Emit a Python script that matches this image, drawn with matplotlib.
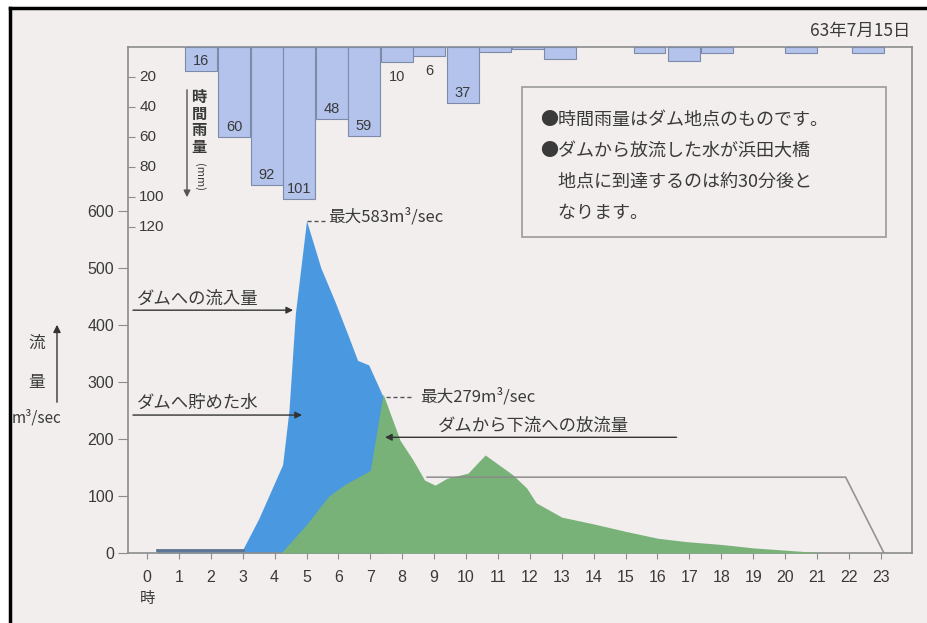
import matplotlib.pyplot as plt
import matplotlib.patches as mpatches
import matplotlib.lines as mlines
import matplotlib.transforms as mtransforms
import numpy as np

plt.rcParams['font.family'] = ['Noto Sans CJK JP', 'DejaVu Sans']

# hourly rain at the dam (mm)
rain_t = [1.68, 2.74, 3.75, 4.77, 5.79, 6.8, 7.84, 8.84, 9.9, 10.92, 11.93,
          12.95, 15.75, 16.82, 17.88, 20.5, 22.6]
rain_mm = [16, 60, 92, 101, 48, 59, 10, 6, 37, 3, 1, 8, 4, 9, 4, 4, 4]
rain_labeled = [16, 60, 92, 101, 48, 59, 10, 6, 37]

# inflow to the dam (m3/sec)
inflow_t = [0.3, 3.0, 3.5, 4.25, 4.45, 4.65, 5.0, 5.45, 5.9, 6.35, 6.6, 6.95, 7.4, 7.5]
inflow_q = [6, 6, 60, 155, 250, 420, 583, 500, 440, 375, 338, 330, 274, 0]

# release from the dam (m3/sec)
outflow_t = [4.2, 5.0, 5.7, 6.2, 7.0, 7.4, 7.93, 8.34, 8.7, 9.03, 9.4, 10.06, 10.6,
             11.47, 11.9, 12.2, 13.0, 14.0, 15.0, 16.0, 16.9, 18.0, 19.0, 20.0, 21.0, 21.2]
outflow_q = [0, 50, 100, 120, 145, 279, 198, 163, 128, 119, 131, 140, 172,
             137, 114, 88, 63, 51, 38, 26, 20, 15, 9, 5, 1, 0]

# thin grey line
grey_t = [8.78, 21.9, 23.1]
grey_q = [133, 133, 0]

hours = list(range(24))
flow_ticks = [0, 100, 200, 300, 400, 500, 600]
rain_ticks = [20, 40, 60, 80, 100, 120]

W, H = 928, 623
txt = '#3a3a3a'
edge = '#8c8c8c'
num_font = 'Liberation Sans'


def px(x, y):
    return x / W, 1 - y / H


fig = plt.figure(figsize=(W / 100, H / 100), dpi=100, facecolor='white')
fig.patches.append(mpatches.Rectangle((10 / W, 0), 1, 1 - 8 / H, transform=fig.transFigure,
                                      facecolor='#f2eeed', edgecolor='none', zorder=-5))
fig.lines.append(mlines.Line2D([10 / W, 1], [1 - 8 / H] * 2, transform=fig.transFigure,
                               color='black', lw=2.5))
fig.lines.append(mlines.Line2D([10 / W] * 2, [0, 1 - 8 / H], transform=fig.transFigure,
                               color='black', lw=2.5))

ax = fig.add_axes([128 / W, 70 / H, 784 / W, 506 / H])
ax.set_facecolor('none')
ax.set_xlim(-0.596, 23.98)
ax.set_ylim(0, 887.7)
for s in ax.spines.values():
    s.set_color(edge)
    s.set_linewidth(1.2)

ax.fill_between(inflow_t, inflow_q, color='#4a98e0', lw=0, zorder=2)
ax.plot(inflow_t[:2], inflow_q[:2], color='#5d7394', lw=2, zorder=2)
ax.fill_between(outflow_t, outflow_q, color='#78b278', lw=0, zorder=3)
ax.plot(grey_t, grey_q, color='#8a8a8a', lw=1.2, alpha=0.9, zorder=4)

ax.set_xticks(hours)
ax.set_xticklabels([str(h) for h in hours], fontfamily=num_font)
ax.set_yticks(flow_ticks)
ax.set_yticklabels([str(v) for v in flow_ticks], fontfamily=num_font)
ax.tick_params(axis='x', direction='out', length=4, pad=8, labelsize=11.5,
               color=edge, labelcolor=txt)
ax.tick_params(axis='y', direction='out', length=7, pad=3, labelsize=11.5,
               color=edge, labelcolor=txt)
ax.annotate('時', xy=(0, 0), xycoords=('data', 'axes fraction'), xytext=(0, -33),
            textcoords='offset points', ha='center', va='center', fontsize=11, color=txt)

# rain bars hanging from the top
ax2 = ax.twinx()
ax2.set_ylim(337.3, 0)
for s in ax2.spines.values():
    s.set_visible(False)
ax2.yaxis.set_ticks_position('left')
ax2.set_yticks(rain_ticks)
ax2.set_yticklabels([])
ax2.tick_params(axis='y', direction='in', length=5, color=edge)
rain_lab = mtransforms.blended_transform_factory(ax2.transAxes, ax2.transData)
for v in rain_ticks:
    ax2.text(0.0145, v, str(v), transform=rain_lab, ha='left', va='center',
             fontsize=11, fontfamily=num_font, color=txt)
ax2.bar(rain_t, rain_mm, width=1.0, color='#b3c3ec', edgecolor='#7d8aa8', lw=0.8)
for t, v in zip(rain_t, rain_mm):
    if v not in rain_labeled:
        continue
    if v > 12:
        ax2.text(t, v - 6.5, str(v), ha='center', va='center', fontsize=10.5,
                 fontfamily=num_font, color=txt)
    else:
        ax2.text(t, v + 10, str(v), ha='center', va='center', fontsize=10.5,
                 fontfamily=num_font, color=txt)

# rain axis caption
fig.text(*px(199, 122), '時\n間\n雨\n量', ha='center', va='center', fontsize=11,
         color=txt, linespacing=1.05, fontweight='bold')
fig.text(*px(199, 177), '(mm)', ha='center', va='center', fontsize=8, rotation=270,
         color=txt)
ax.annotate('', xy=px(187, 200), xytext=px(187, 87), xycoords='figure fraction',
            arrowprops=dict(arrowstyle='-|>', color='#555555', lw=1, mutation_scale=10))

# flow axis caption
fig.text(*px(37, 343), '流', ha='center', va='center', fontsize=12, color=txt)
fig.text(*px(37, 383), '量', ha='center', va='center', fontsize=12, color=txt)
fig.text(*px(12, 418), 'm³/sec', ha='left', va='center', fontsize=11, color=txt)
ax.annotate('', xy=px(57, 322), xytext=px(57, 405), xycoords='figure fraction',
            arrowprops=dict(arrowstyle='-|>', color='#333333', lw=1, mutation_scale=11))

# callouts
arrow = dict(arrowstyle='-|>', color='#333333', lw=1, mutation_scale=10, shrinkA=0, shrinkB=0)
ax.text(-0.31, 446, 'ダムへの流入量', ha='left', va='center', fontsize=12.5, color=txt)
ax.annotate('', xy=(4.58, 426), xytext=(-0.44, 426), arrowprops=arrow)
ax.text(-0.31, 263, 'ダムへ貯めた水', ha='left', va='center', fontsize=12.5, color=txt)
ax.annotate('', xy=(4.86, 242), xytext=(-0.44, 242), arrowprops=arrow)
ax.text(9.12, 223, 'ダムから下流への放流量', ha='left', va='center', fontsize=12.5, color=txt)
ax.annotate('', xy=(7.46, 203), xytext=(16.6, 203), arrowprops=arrow)

ax.plot([5.03, 5.6], [583, 583], color='#555555', lw=1, ls=(0, (3, 2)))
ax.text(5.68, 590, '最大583m³/sec', ha='left', va='center', fontsize=12, color=txt)
ax.plot([7.5, 8.3], [274, 274], color='#555555', lw=1, ls=(0, (3, 2)))
ax.text(8.56, 274, '最大279m³/sec', ha='left', va='center', fontsize=12, color=txt)

# date and notes
fig.text(*px(910, 31), '63年7月15日', ha='right', va='center', fontsize=12.5, color=txt)
fig.patches.append(mpatches.Rectangle(px(522, 237), 364 / W, 150 / H, transform=fig.transFigure,
                                      facecolor='none', edgecolor='#9a9a9a', lw=1.2))
notes = ['●時間雨量はダム地点のものです。', '●ダムから放流した水が浜田大橋',
         '　地点に到達するのは約30分後と', '　なります。']
for i, line in enumerate(notes):
    fig.text(*px(540, 120 + i * 31), line, ha='left', va='center', fontsize=13, color=txt)

fig.savefig('out.png', dpi=100, facecolor=fig.get_facecolor())
